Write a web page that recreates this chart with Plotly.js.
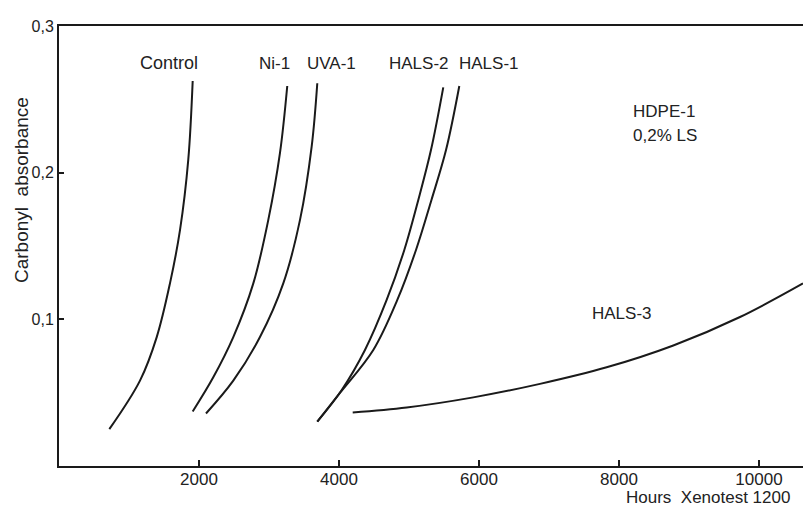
<!DOCTYPE html>
<html>
<head>
<meta charset="utf-8">
<script src="https://cdn.plot.ly/plotly-3.0.1.min.js"></script>
<style>html,body{margin:0;padding:0;background:#fff}#chart{width:803px;height:509px}</style>
</head>
<body>
<div id="chart"></div>
<script>
// Data (hours, carbonyl absorbance)
const controlHours = [719, 1157, 1396, 1586, 1729, 1847, 1910];
const controlAbs   = [0.0251, 0.0582, 0.0879, 0.1247, 0.161, 0.2089, 0.2625];
const ni1Hours = [1910, 2204, 2490, 2776, 2990, 3157, 3261];
const ni1Abs   = [0.0372, 0.0605, 0.0879, 0.1245, 0.1678, 0.2135, 0.2591];
const uva1Hours = [2100, 2490, 2871, 3204, 3443, 3610, 3690];
const uva1Abs   = [0.0358, 0.0582, 0.0879, 0.1245, 0.1678, 0.218, 0.261];
const hals2Hours = [3690, 4039, 4371, 4681, 4933, 5133, 5314, 5490];
const hals2Abs   = [0.0302, 0.0518, 0.0791, 0.1132, 0.1473, 0.1814, 0.2154, 0.2582];
const hals1Hours = [3690, 4014, 4490, 4833, 5100, 5321, 5529, 5719];
const hals1Abs   = [0.0302, 0.0498, 0.0791, 0.1132, 0.1473, 0.1814, 0.2154, 0.2591];
const hals3Hours = [4196, 4967, 5919, 6871, 7824, 8776, 9729, 10629];
const hals3Abs   = [0.0365, 0.0399, 0.0468, 0.056, 0.0673, 0.0822, 0.1016, 0.1245];

const xTickVals = [2000, 4000, 6000, 8000, 10000];
const xTickText = ["2000", "4000", "6000", "8000", "10000"];
const yTickVals = [0.1, 0.2, 0.3];
const yTickText = ["0,1", "0,2", "0,3"];

const seriesNames = ["Control", "Ni-1", "UVA-1", "HALS-2", "HALS-1", "HALS-3"];
const seriesX = [controlHours, ni1Hours, uva1Hours, hals2Hours, hals1Hours, hals3Hours];
const seriesY = [controlAbs, ni1Abs, uva1Abs, hals2Abs, hals1Abs, hals3Abs];

const traces = seriesNames.map((n, i) => ({
  x: seriesX[i], y: seriesY[i], name: n, type: 'scatter', mode: 'lines',
  line: {color: '#1a1a1a', width: 2, shape: 'spline', smoothing: 1.0},
  hoverinfo: 'skip'
}));

const L = 59, R = 803, T = 26, B = 466;
const px = v => (v - L) / (R - L);
const py = v => (B - v) / (B - T);
const font = {family: 'Liberation Sans, Arial, sans-serif', color: '#222'};

function lab(text, x, y, size, anchor) {
  return {text: text, xref: 'paper', yref: 'paper', x: px(x), y: py(y),
    xanchor: anchor || 'center', yanchor: 'middle', showarrow: false,
    font: Object.assign({size: size || 17}, font)};
}

const annotations = [
  lab('Control', 168.5, 63, 18),
  lab('Ni-1', 274, 63),
  lab('UVA-1', 331, 63),
  lab('HALS-2', 419, 63),
  lab('HALS-1', 489, 63),
  lab('HDPE-1', 631, 111, 17, 'left'),
  lab('0,2% LS', 631, 135, 17, 'left'),
  lab('HALS-3', 622, 313),
  lab('Hours  Xenotest 1200', 792, 497, 17, 'right'),
  Object.assign(lab('Carbonyl  absorbance', 22, 190, 19), {textangle: -90})
];

const layout = {
  width: 803, height: 509,
  margin: {l: L, r: 803 - R, t: T, b: 509 - B, pad: 0},
  paper_bgcolor: '#fff', plot_bgcolor: '#fff',
  showlegend: false,
  xaxis: {
    range: [0, 10629], showgrid: false, zeroline: false,
    showline: true, linecolor: '#1a1a1a', linewidth: 2, mirror: true,
    ticks: 'inside', ticklen: 6, tickwidth: 2, tickcolor: '#1a1a1a',
    tickvals: xTickVals, ticktext: xTickText, ticklabelstandoff: -3,
    tickfont: Object.assign({size: 17}, font)
  },
  yaxis: {
    range: [0, 0.3], showgrid: false, zeroline: false,
    showline: true, linecolor: '#1a1a1a', linewidth: 2, mirror: false,
    ticks: 'inside', ticklen: 5, tickwidth: 2, tickcolor: '#1a1a1a',
    tickvals: yTickVals, ticktext: yTickText,
    tickfont: Object.assign({size: 16}, font)
  },
  annotations: annotations
};

Plotly.newPlot('chart', traces, layout, {staticPlot: true, displayModeBar: false});
</script>
</body>
</html>
